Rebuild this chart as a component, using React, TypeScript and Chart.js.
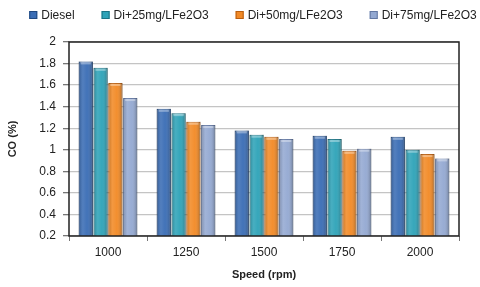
import React, { useEffect, useRef } from "react";
import { Chart, registerables } from "chart.js";

Chart.register(...registerables);

const categories = ["1000", "1250", "1500", "1750", "2000"];
const seriesNames = ["Diesel", "Di+25mg/LFe2O3", "Di+50mg/LFe2O3", "Di+75mg/LFe2O3"];
const diesel = [1.82, 1.38, 1.18, 1.13, 1.12];
const di25 = [1.76, 1.34, 1.14, 1.1, 1.0];
const di50 = [1.62, 1.26, 1.12, 0.99, 0.96];
const di75 = [1.48, 1.23, 1.1, 1.01, 0.92];
const yTicks = [0.2, 0.4, 0.6, 0.8, 1, 1.2, 1.4, 1.6, 1.8, 2];

const fills = ["#3a6db5", "#2ea3b8", "#f28a26", "#94a9d2"];
const edges = ["#1f4880", "#1c7384", "#b85e10", "#6378a3"];

const FONT = "'Liberation Sans', Arial, sans-serif";

const decorPlugin = {
  id: "decor",
  afterDatasetsDraw(chart: any) {
    const ctx = chart.ctx;
    const a = chart.chartArea;
    chart.data.datasets.forEach((ds: any, di: number) => {
      const meta = chart.getDatasetMeta(di);
      meta.data.forEach((bar: any) => {
        const x0 = bar.x - bar.width / 2;
        const x1 = bar.x + bar.width / 2;
        const bottom = Math.min(bar.base, a.bottom);
        const g = ctx.createLinearGradient(x0, 0, x1, 0);
        g.addColorStop(0, "rgba(0,0,0,0.22)");
        g.addColorStop(0.3, "rgba(255,255,255,0.12)");
        g.addColorStop(0.6, "rgba(255,255,255,0.04)");
        g.addColorStop(1, "rgba(0,0,0,0.28)");
        ctx.save();
        ctx.fillStyle = g;
        ctx.fillRect(x0, bar.y, bar.width, bottom - bar.y);
        ctx.fillStyle = "rgba(255,255,255,0.35)";
        ctx.fillRect(x0 + 2, bar.y + 1, bar.width - 4, 2);
        ctx.restore();
      });
    });
    ctx.save();
    ctx.strokeStyle = "#222";
    ctx.lineWidth = 1.5;
    ctx.strokeRect(a.left, a.top, a.right - a.left, a.bottom - a.top);
    ctx.restore();
  },
  afterDraw(chart: any) {
    const ctx = chart.ctx;
    ctx.save();
    ctx.font = `12px ${FONT}`;
    ctx.textBaseline = "middle";
    const box = 8;
    const boxGap = 4;
    const gap = 27;
    const widths = seriesNames.map((n) => ctx.measureText(n).width);
    const total = widths.reduce((s, w) => s + box + boxGap + w, 0) + gap * (seriesNames.length - 1);
    let x = 253 - total / 2;
    const y = 15;
    seriesNames.forEach((n, i) => {
      ctx.fillStyle = fills[i];
      ctx.fillRect(x, y - box / 2, box, box);
      ctx.strokeStyle = edges[i];
      ctx.lineWidth = 1;
      ctx.strokeRect(x + 0.5, y - box / 2 + 0.5, box - 1, box - 1);
      ctx.fillStyle = "#222";
      ctx.fillText(n, x + box + boxGap, y + 0.5);
      x += box + boxGap + widths[i] + gap;
    });
    ctx.restore();
  },
};

export default function App() {
  const ref = useRef<HTMLCanvasElement | null>(null);
  useEffect(() => {
    document.body.style.margin = "0";
    const values = [diesel, di25, di50, di75];
    const chart = new Chart(ref.current as HTMLCanvasElement, {
      type: "bar",
      data: {
        labels: categories,
        datasets: seriesNames.map((n, i) => ({
          label: n,
          data: values[i],
          backgroundColor: fills[i],
          borderColor: edges[i],
          borderWidth: 1,
          barPercentage: 0.96,
          categoryPercentage: 0.76,
        })),
      },
      options: {
        animation: false,
        responsive: false,
        layout: { padding: { top: 42, right: 21, left: 0, bottom: 0 } },
        plugins: {
          legend: { display: false },
          tooltip: { enabled: false },
        },
        scales: {
          x: {
            afterFit: (axis: any) => {
              axis.height = 51;
            },
            grid: { drawOnChartArea: false, drawTicks: true, tickLength: 5, tickColor: "#777", offset: true },
            border: { display: false },
            ticks: { color: "#222", font: { family: FONT, size: 12 }, padding: 4 },
            title: { display: true, text: "Speed (rpm)", color: "#222", font: { family: FONT, size: 11, weight: "bold" }, padding: { top: 0, bottom: 5 } },
          },
          y: {
            min: 0.2,
            max: 2,
            afterFit: (axis: any) => {
              axis.width = 69;
            },
            afterBuildTicks: (axis: any) => {
              axis.ticks = yTicks.map((v) => ({ value: v }));
            },
            grid: { color: "#c4c4c4", lineWidth: 1.3, tickLength: 6, tickColor: "#777" },
            border: { display: false },
            ticks: {
              color: "#222",
              font: { family: FONT, size: 12 },
              padding: 7,
              autoSkip: false,
              callback: (v: any) => String(Number(Number(v).toFixed(1))),
            },
            title: { display: true, text: "CO (%)", color: "#222", font: { family: FONT, size: 11, weight: "bold" }, padding: { top: 6, bottom: 0 } },
          },
        },
      },
      plugins: [decorPlugin],
    } as any);
    return () => chart.destroy();
  }, []);
  return (
    <div style={{ width: 480, height: 287 }}>
      <canvas ref={ref} width={480} height={287} style={{ display: "block" }} />
    </div>
  );
}
